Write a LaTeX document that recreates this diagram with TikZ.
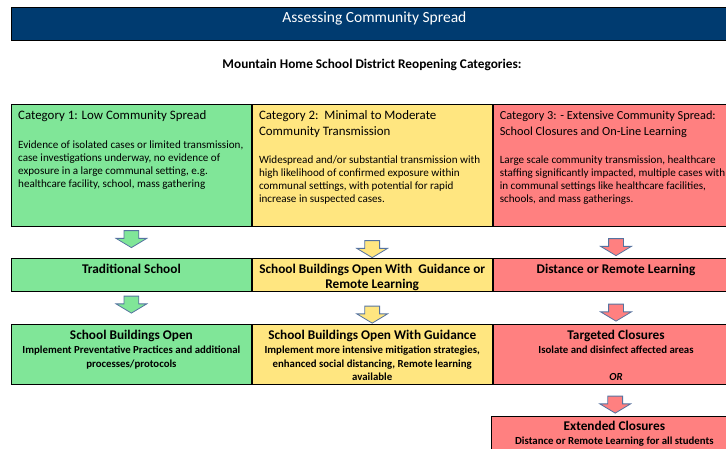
\documentclass[tikz,border=0pt]{standalone}
\usepackage{fontspec}
\setmainfont{Carlito}
\usetikzlibrary{calc,positioning,shapes.arrows}
\definecolor{bannerblue}{RGB}{0,59,112}
\definecolor{lowgreen}{RGB}{128,230,152}
\definecolor{midyellow}{RGB}{255,230,128}
\definecolor{highred}{RGB}{255,128,128}
\definecolor{arrowline}{RGB}{85,115,160}
\newcommand\headfont{\fontsize{12.9}{16}\selectfont}
\newcommand\bodyfont{\fontsize{11.1}{13}\selectfont}
\newcommand\planfont{\fontsize{13.3}{15}\selectfont\bfseries}
\newcommand\modefont{\fontsize{10.8}{13.5}\selectfont\bfseries}

\begin{document}
\begin{tikzpicture}[x=1pt,y=-1pt,
  box/.style={draw,line width=0.8pt,anchor=north west,inner sep=0pt,minimum height=#1},
  headtext/.style={anchor=north west,inner sep=0pt,align=left,font=\headfont},
  bodytext/.style={anchor=north west,inner sep=0pt,align=left,font=\bodyfont},
  plantext/.style={anchor=north,inner sep=0pt,align=center,font=\planfont},
  modetext/.style={anchor=north,inner sep=0pt,align=center,font=\modefont},
  flow/.style={single arrow,draw=arrowline,line width=0.8pt,rotate=-90,inner sep=0pt,
    text height=14pt,text depth=0pt,minimum height=17pt,single arrow head extend=8pt,
    single arrow tip angle=118}]
\useasboundingbox (0,0) rectangle (726,449);
% banner
\node[box=33pt,fill=bannerblue,minimum width=726pt] (banner) at (11,7) {};
\node[anchor=base,inner sep=0pt,text=white,font=\fontsize{15.5}{18}\selectfont]
  (title) at ($(banner.north)+(0,16)$) {Assessing Community Spread};
\node[anchor=base,inner sep=0pt,font=\fontsize{13.3}{15}\selectfont\bfseries]
  (sub) at (372,69) {Mountain Home School District Reopening Categories:};

% categories
\node[box=122pt,fill=lowgreen,minimum width=240pt] (cat1) at (11,104) {};
\node[box=122pt,fill=midyellow,minimum width=240pt,right=0pt of cat1] (cat2) {};
\node[box=122pt,fill=highred,minimum width=246pt,right=0pt of cat2] (cat3) {};
\node[headtext] (cat1h) at ($(cat1.north west)+(7,6.5)$) {Category 1: Low Community Spread};
\node[headtext] (cat2h) at ($(cat2.north west)+(7,6.5)$) {Category 2:\ \ Minimal to Moderate\\Community Transmission};
\node[headtext,font=\fontsize{12.3}{16}\selectfont] (cat3h) at ($(cat3.north west)+(7,6.5)$) {Category 3: - Extensive Community Spread:\\School Closures and On-Line Learning};
\node[bodytext] (cat1b) at ($(cat1.north west)+(7,37)$) {Evidence of isolated cases or limited transmission,\\case investigations underway, no evidence of\\exposure in a large communal setting, e.g.\\healthcare facility, school, mass gathering};
\node[bodytext] (cat2b) at ($(cat2.north west)+(7,52)$) {Widespread and/or substantial transmission with\\high likelihood of confirmed exposure within\\communal settings, with potential for rapid\\increase in suspected cases.};
\node[bodytext] (cat3b) at ($(cat3.north west)+(7,52)$) {Large scale community transmission, healthcare\\staffing significantly impacted, multiple cases with\\in communal settings like healthcare facilities,\\schools, and mass gatherings.};

% plans
\node[box=33pt,fill=lowgreen,minimum width=240pt] (plan1) at (11,258) {};
\node[box=33pt,fill=midyellow,minimum width=240pt,right=0pt of plan1] (plan2) {};
\node[box=33pt,fill=highred,minimum width=246pt,right=0pt of plan2] (plan3) {};
\node[plantext] (plan1t) at ($(plan1.north)+(0,5.5)$) {Traditional School};
\node[plantext] (plan2t) at ($(plan2.north)+(0,5.5)$) {School Buildings Open With\ \ Guidance or\\Remote Learning};
\node[plantext] (plan3t) at ($(plan3.north)+(0,5.5)$) {Distance or Remote Learning};

% modes
\node[box=60pt,fill=lowgreen,minimum width=240pt] (mode1) at (11,324) {};
\node[box=60pt,fill=midyellow,minimum width=240pt,right=0pt of mode1] (mode2) {};
\node[box=60pt,fill=highred,minimum width=246pt,right=0pt of mode2] (mode3) {};
\node[box=40pt,fill=highred,minimum width=246pt] (mode4) at (491,416) {};
\node[plantext] (mode1h) at ($(mode1.north)+(0,6)$) {School Buildings Open};
\node[plantext] (mode2h) at ($(mode2.north)+(0,6)$) {School Buildings Open With Guidance};
\node[plantext] (mode3h) at ($(mode3.north)+(0,6)$) {Targeted Closures};
\node[plantext] (mode4h) at ($(mode4.north)+(0,5)$) {Extended Closures};
\node[modetext] (mode1b) at ($(mode1.north)+(0,22)$) {Implement Preventative Practices and additional\\processes/protocols};
\node[modetext] (mode2b) at ($(mode2.north)+(0,22)$) {Implement more intensive mitigation strategies,\\enhanced social distancing, Remote learning\\available};
\node[modetext] (mode3b) at ($(mode3.north)+(0,22)$) {Isolate and disinfect affected areas\\[13.5pt]\textit{OR}};
\node[modetext] (mode4b) at ($(mode4.north)+(0,21)$) {Distance or Remote Learning for all students};

% arrows
\node[flow,fill=lowgreen,xshift=-7pt] (go11) at ($(cat1.south)!0.5!(plan1.north)+(0,1.5)$) {};
\node[flow,fill=midyellow,xshift=3pt] (go21) at ($(cat2.south)!0.5!(plan2.north)+(0,1.5)$) {};
\node[flow,fill=highred,xshift=1pt] (go31) at ($(cat3.south)!0.5!(plan3.north)+(0,1.5)$) {};
\node[flow,fill=lowgreen,xshift=-7pt] (go12) at ($(plan1.south)!0.5!(mode1.north)+(0,1.5)$) {};
\node[flow,fill=midyellow,xshift=3pt] (go22) at ($(plan2.south)!0.5!(mode2.north)+(0,1.5)$) {};
\node[flow,fill=highred,xshift=1pt] (go32) at ($(plan3.south)!0.5!(mode3.north)+(0,1.5)$) {};
\node[flow,fill=highred,xshift=1pt] (go33) at ($(mode3.south)!0.5!(mode4.north)+(0,1)$) {};
\end{tikzpicture}
\end{document}
